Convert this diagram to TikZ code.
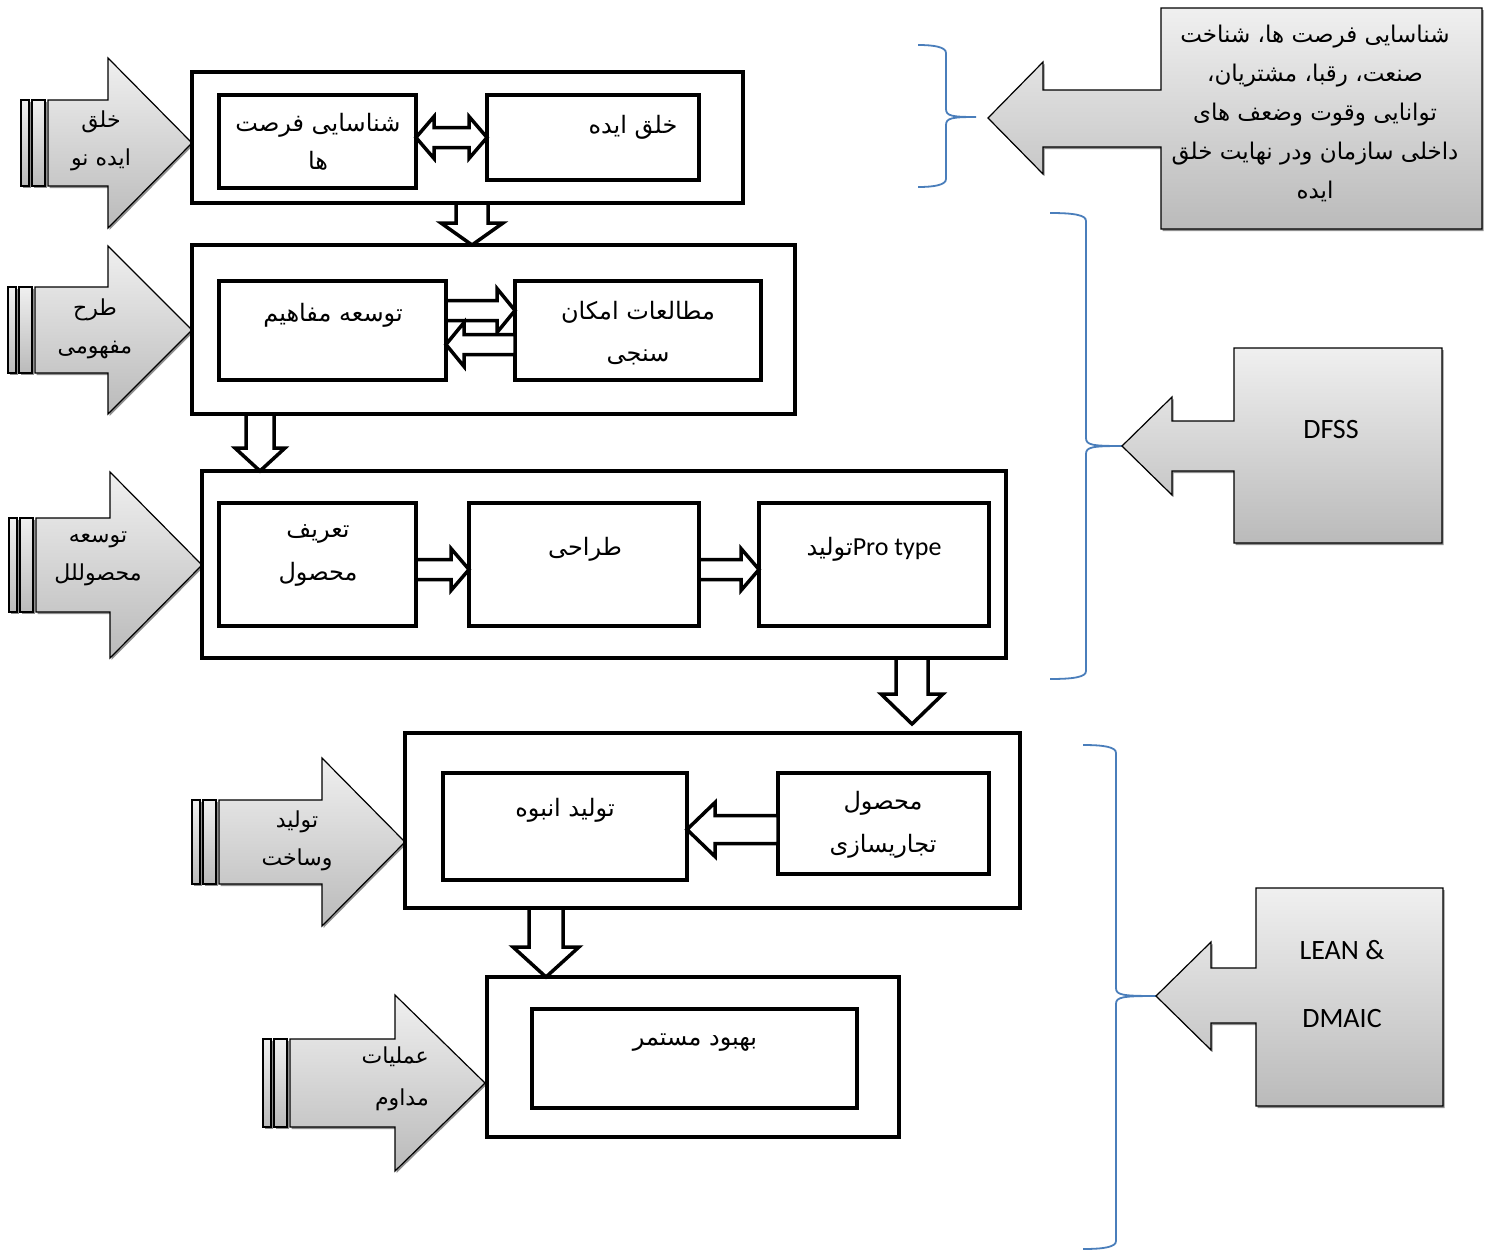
\documentclass[tikz,border=0pt]{standalone}
\usepackage{fontspec}
\usepackage{tikz}
\usetikzlibrary{calc,shadows}
\newfontfamily\arabicfont[Script=Arabic]{DejaVu Sans}
\newfontfamily\calibrifont{Carlito}
\TeXXeTstate=1
\newcommand\fa[1]{\beginR#1\endR}
\definecolor{bracecol}{HTML}{4A7EBB}

% striped grey arrow: stripe x, head base x, tip x, centre y, shaft half, head half
\newcommand\sidearrow[6]{%
  \path[grayfill] ({#1},{#4-#5}) rectangle ({#1+8},{#4+#5});
  \path[grayfill] ({#1+11},{#4-#5}) rectangle ({#1+24},{#4+#5});
  \path[grayfill] ({#1+27},{#4-#5}) -- ({#2},{#4-#5}) -- ({#2},{#4-#6}) -- ({#3},{#4})
    -- ({#2},{#4+#6}) -- ({#2},{#4+#5}) -- ({#1+27},{#4+#5}) -- cycle;}

% right brace: arm x, spine x, tip x, top y, tip y, bottom y
\newcommand\sidebrace[6]{%
  \draw[bracket] ({#1},{#4}) .. controls ({#2-12},{#4}) and ({#2},{#4+2}) .. ({#2},{#4+8})
    -- ({#2},{#5-8}) .. controls ({#2},{#5-1}) and ({#2+6},{#5}) .. ({#3},{#5})
    .. controls ({#2+6},{#5}) and ({#2},{#5+1}) .. ({#2},{#5+8})
    -- ({#2},{#6-8}) .. controls ({#2},{#6-2}) and ({#2-12},{#6}) .. ({#1},{#6});}

\tikzset{
  outerbox/.style={draw, rectangle, line width=4pt, inner sep=0pt, outer sep=0pt},
  innerbox/.style={draw, rectangle, line width=4pt, inner sep=0pt, outer sep=0pt},
  txt/.style={font=\arabicfont\fontsize{24}{40}\selectfont, align=center, inner sep=0pt},
  sidetxt/.style={txt, font=\arabicfont\fontsize{22}{38}\selectfont},
  lat/.style={font=\calibrifont\fontsize{28}{68}\selectfont, align=center, inner sep=0pt},
  grayfill/.style={draw=black, line width=1.2pt, top color=black!6, bottom color=black!27,
    drop shadow={shadow xshift=1.5pt, shadow yshift=-2pt, fill=black!55, opacity=.8}},
  bracket/.style={draw=bracecol, line width=1.8pt},
  aw/.store in=\aw, ahw/.store in=\ahw, ahl/.store in=\ahl,
  aw=10pt, ahw=21pt, ahl=18pt,
  hollow/.style={draw=black, line width=3.5pt, fill=white, line join=miter, miter limit=10},
  blockarrow/.style={hollow, to path={
    let \p1=($(\tikztotarget)-(\tikztostart)$), \n1={atan2(\y1,\x1)}, \n2={veclen(\x1,\y1)} in
       ($(\tikztostart)+({\n1+90}:\aw)$)
    -- ($(\tikztostart)+({\n1}:{\n2-\ahl})+({\n1+90}:\aw)$)
    -- ($(\tikztostart)+({\n1}:{\n2-\ahl})+({\n1+90}:\ahw)$)
    -- (\tikztotarget)
    -- ($(\tikztostart)+({\n1}:{\n2-\ahl})+({\n1-90}:\ahw)$)
    -- ($(\tikztostart)+({\n1}:{\n2-\ahl})+({\n1-90}:\aw)$)
    -- ($(\tikztostart)+({\n1-90}:\aw)$) -- cycle}},
  dblarrow/.style={hollow, to path={
    let \p1=($(\tikztotarget)-(\tikztostart)$), \n1={atan2(\y1,\x1)}, \n2={veclen(\x1,\y1)} in
       (\tikztostart)
    -- ($(\tikztostart)+({\n1}:\ahl)+({\n1+90}:\ahw)$)
    -- ($(\tikztostart)+({\n1}:\ahl)+({\n1+90}:\aw)$)
    -- ($(\tikztostart)+({\n1}:{\n2-\ahl})+({\n1+90}:\aw)$)
    -- ($(\tikztostart)+({\n1}:{\n2-\ahl})+({\n1+90}:\ahw)$)
    -- (\tikztotarget)
    -- ($(\tikztostart)+({\n1}:{\n2-\ahl})+({\n1-90}:\ahw)$)
    -- ($(\tikztostart)+({\n1}:{\n2-\ahl})+({\n1-90}:\aw)$)
    -- ($(\tikztostart)+({\n1}:\ahl)+({\n1-90}:\aw)$)
    -- ($(\tikztostart)+({\n1}:\ahl)+({\n1-90}:\ahw)$) -- cycle}},
}

\begin{document}
\begin{tikzpicture}[x=1pt, y=-1pt]
  \useasboundingbox (0,0) rectangle (1492,1250);

  % braces on the right
  \sidebrace{918}{946}{976}{45}{117}{187}
  \sidebrace{1050}{1086}{1122}{213}{446}{679}
  \sidebrace{1083}{1116}{1156}{745}{996}{1249}

  % grey callouts
  \path[grayfill] (1161,8) -- (1482,8) -- (1482,229) -- (1161,229) -- (1161,147) -- (1043,147)
    -- (1043,174) -- (988,118) -- (1043,62) -- (1043,90) -- (1161,90) -- cycle;
  \path[grayfill] (1234,348) -- (1442,348) -- (1442,543) -- (1234,543) -- (1234,471) -- (1172,471)
    -- (1172,495) -- (1122,446) -- (1172,397) -- (1172,421) -- (1234,421) -- cycle;
  \path[grayfill] (1256,888) -- (1443,888) -- (1443,1106) -- (1256,1106) -- (1256,1023) -- (1211,1023)
    -- (1211,1050) -- (1156,996) -- (1211,942) -- (1211,968) -- (1256,968) -- cycle;
  \node[txt, font=\arabicfont\fontsize{23}{39}\selectfont] (c1) at (1315,113)
    {\fa{شناسایی فرصت ها، شناخت}\\\fa{صنعت، رقبا، مشتریان،}\\
    \fa{توانایی وقوت وضعف های}\\\fa{داخلی سازمان ودر نهایت خلق}\\\fa{ایده}};
  \node[lat] (c2) at (1331,430) {DFSS};
  \node[lat] (c3) at (1342,984) {LEAN \&\\DMAIC};

  % grey arrows on the left
  \sidearrow{21}{108}{192}{143}{43}{85}
  \sidearrow{8}{108}{192}{330}{43}{84}
  \sidearrow{9}{110}{202}{565}{47}{93}
  \sidearrow{192}{322}{405}{842}{42}{84}
  \sidearrow{263}{395}{485}{1083}{44}{88}
  \node[sidetxt] (a1) at (101,141) {\fa{خلق}\\\fa{ایده نو}};
  \node[sidetxt] (a2) at (95,329) {\fa{طرح}\\\fa{مفهومی}};
  \node[sidetxt] (a3) at (98,559) {\fa{توسعه}\\\fa{محصوللل}};
  \node[sidetxt] (a4) at (297,841) {\fa{تولید}\\\fa{وساخت}};
  \node[sidetxt, font=\arabicfont\fontsize{22}{42}\selectfont, align=right, anchor=east] (a5)
    at (429,1079) {\fa{عملیات}\\\fa{مداوم}};

  % stages
  \node[outerbox, minimum width=551pt, minimum height=131pt] (b1) at (467.5,137.5) {};
  \node[outerbox, minimum width=603pt, minimum height=169pt] (b2) at (493.5,329.5) {};
  \node[outerbox, minimum width=804pt, minimum height=187pt] (b3) at (604,564.5) {};
  \node[outerbox, minimum width=615pt, minimum height=175pt] (b4) at (712.5,820.5) {};
  \node[outerbox, minimum width=412pt, minimum height=160pt] (b5) at (693,1057) {};

  \node[innerbox, minimum width=197pt, minimum height=93pt] (i11) at (317.5,141.5) {};
  \node[innerbox, minimum width=212pt, minimum height=85pt] (i12) at (593,137.5) {};
  \node[innerbox, minimum width=227pt, minimum height=99pt] (i21) at (332.5,330.5) {};
  \node[innerbox, minimum width=246pt, minimum height=99pt] (i22) at (638,330.5) {};
  \node[innerbox, minimum width=197pt, minimum height=123pt] (i31) at (317.5,564.5) {};
  \node[innerbox, minimum width=230pt, minimum height=123pt] (i32) at (584,564.5) {};
  \node[innerbox, minimum width=230pt, minimum height=123pt] (i33) at (874,564.5) {};
  \node[innerbox, minimum width=244pt, minimum height=107pt] (i41) at (565,826.5) {};
  \node[innerbox, minimum width=211pt, minimum height=101pt] (i42) at (883.5,823.5) {};
  \node[innerbox, minimum width=325pt, minimum height=99pt] (i51) at (694.5,1058.5) {};

  \node[txt, font=\arabicfont\fontsize{24}{38}\selectfont] (t11) at (318,142) {\fa{شناسایی فرصت}\\\fa{ها}};
  \node[txt] (t12) at (633,127) {\fa{خلق ایده}};
  \node[txt] (t21) at (333,315) {\fa{توسعه مفاهیم}};
  \node[txt, font=\arabicfont\fontsize{24}{42}\selectfont] (t22) at (638,333) {\fa{مطالعات امکان}\\\fa{سنجی}};
  \node[txt, font=\arabicfont\fontsize{24}{43}\selectfont] (t31) at (318,555) {\fa{تعریف}\\\fa{محصول}};
  \node[txt] (t32) at (585,549) {\fa{طراحی}};
  \node[txt] (t33) at (874,549) {\fa{\beginL{\calibrifont\fontsize{26}{40}\selectfont Pro type}\endL تولید}};
  \node[txt] (t41) at (565,810) {\fa{تولید انبوه}};
  \node[txt, font=\arabicfont\fontsize{24}{43}\selectfont] (t42) at (883,825) {\fa{محصول}\\\fa{تجاریسازی}};
  \node[txt] (t51) at (695,1043) {\fa{بهبود مستمر}};

  % arrows inside the stages
  \path[dblarrow, aw=10pt, ahw=21pt, ahl=18pt] (i12.west -| i11.east) to (i12.west);
  \path[blockarrow, aw=10pt, ahw=22pt, ahl=18pt] ([yshift=20pt]i21.east) to ([yshift=20pt]i22.west);
  \path[blockarrow, aw=10pt, ahw=22pt, ahl=18pt] ([yshift=-14pt]i22.west) to ([yshift=-14pt]i21.east);
  \path[blockarrow, aw=10pt, ahw=21pt, ahl=18pt] ([yshift=-5pt]i31.east) to ([yshift=-5pt]i32.west);
  \path[blockarrow, aw=10pt, ahw=21pt, ahl=18pt] ([yshift=-5pt]i32.east) to ([yshift=-5pt]i33.west);
  \path[blockarrow, aw=14pt, ahw=27pt, ahl=28pt] ([yshift=-6pt]i42.west) to ([yshift=-6pt]i42.west -| i41.east);

  % arrows between the stages
  \coordinate (v1) at (472,203);
  \coordinate (v2) at (260,414);
  \coordinate (v3) at (912,658);
  \coordinate (v3e) at (912,724);
  \coordinate (v4) at (546,908);
  \path[blockarrow, aw=16pt, ahw=31pt, ahl=22pt] (v1) to (v1 |- b2.north);
  \path[blockarrow, aw=14pt, ahw=25pt, ahl=23pt] (v2) to (v2 |- b3.north);
  \path[blockarrow, aw=16pt, ahw=31pt, ahl=30pt] (v3) to (v3e);
  \path[blockarrow, aw=17pt, ahw=33pt, ahl=30pt] (v4) to (v4 |- b5.north);
\end{tikzpicture}
\end{document}
